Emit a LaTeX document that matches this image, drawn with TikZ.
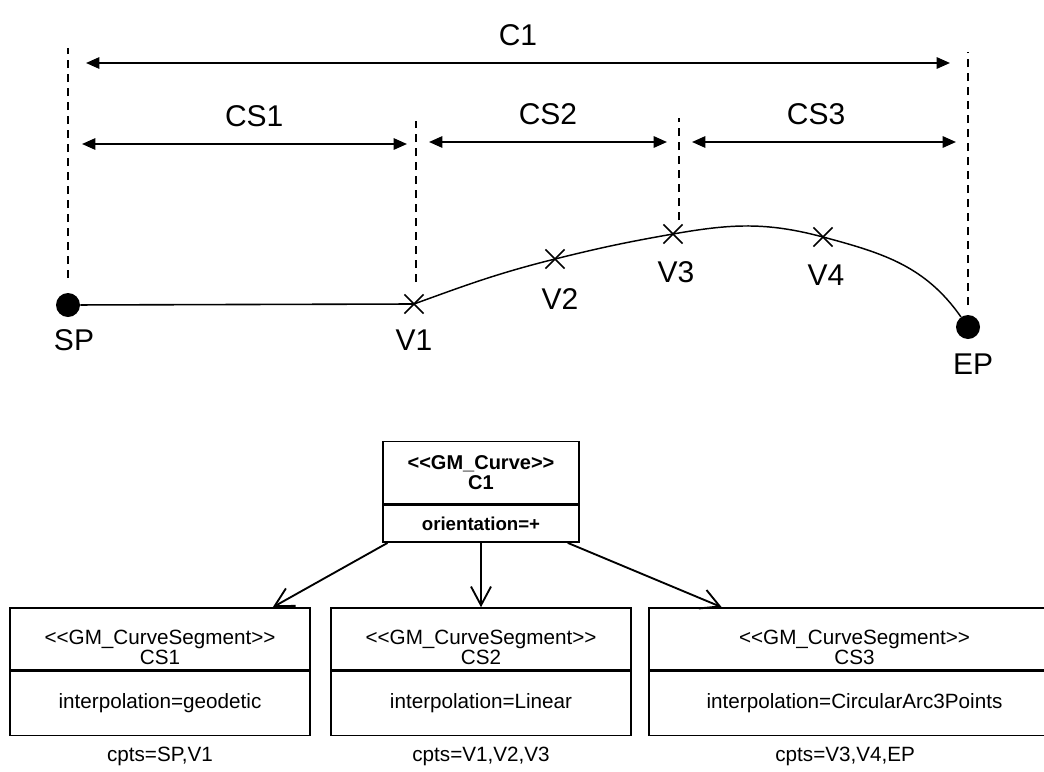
\documentclass[tikz,border=0pt]{standalone}
\usepackage{fontspec}
\setmainfont{Liberation Sans}
\usetikzlibrary{positioning,arrows.meta,shapes.misc}
\newcommand\guil[1]{<\kern0pt<#1>\kern0pt>}

\begin{document}
\begin{tikzpicture}
[x=0.75pt,y=-0.75pt,
 every node/.style={inner sep=0pt,font=\fontsize{22.5}{26}\selectfont},
 guide/.style={dash pattern=on 6pt off 4.5pt,line width=1.9pt},
 dim/.style={{Triangle[length=10pt,width=8.5pt]}-{Triangle[length=10pt,width=8.5pt]},line width=1.4pt},
 endpt/.style={circle,fill,minimum size=18pt},
 vtx/.style={cross out,draw,minimum size=13pt,line width=1.3pt},
 head/.style={draw,line width=1.2pt,minimum height=46.5pt,align=center,
   font=\fontsize{15.5}{15}\selectfont},
 seghead/.style={head,text height=38pt},
 attr/.style={draw,line width=1.2pt,minimum height=48pt,font=\fontsize{15.5}{18}\selectfont},
 note/.style={font=\fontsize{15.5}{18}\selectfont},
 uses/.style={-{Straight Barb[length=14pt,width=15pt]},line width=1.4pt}]
\useasboundingbox (0,0) rectangle (1044,771);

\node[endpt] (sp) at (68,305) {};
\node[vtx] (v1) at (414,304) {};
\node[vtx] (v2) at (555,259) {};
\node[vtx] (v3) at (673,234) {};
\node[vtx] (v4) at (823,237) {};
\node[endpt] (ep) at (968,327) {};

\node (spl) at ([xshift=4.5pt,yshift=-26pt]sp) {SP};
\node (v1l) at ([yshift=-27pt]v1) {V1};
\node (v2l) at ([xshift=3.75pt,yshift=-30pt]v2) {V2};
\node (v3l) at ([xshift=2.25pt,yshift=-28.5pt]v3) {V3};
\node (v4l) at ([xshift=2.25pt,yshift=-28.5pt]v4) {V4};
\node (epl) at ([xshift=3.75pt,yshift=-27.75pt]ep) {EP};

\draw[line width=1.2pt] (sp) -- (v1.center);
\draw[line width=1.1pt] (v1.center) to[out=20,in=194] (v2.center)
  to[out=14,in=190] (v3.center) to[out=10,in=165] (v4.center)
  to[out=-15,in=125] (ep);

\draw[guide] (68,278) -- (68,48);
\draw[guide] (416,282) -- (416,121);
\draw[guide] (679,220) -- (679,118);
\draw[guide] (968,305) -- (968,52);

\coordinate (c1l) at (86,63);   \coordinate (c1r) at (950,63);
\coordinate (cs1l) at (82,144); \coordinate (cs1r) at (407,144);
\coordinate (cs2l) at (429,142); \coordinate (cs2r) at (667,142);
\coordinate (cs3l) at (692,142); \coordinate (cs3r) at (956,142);
\draw[dim] (c1l) -- node[above=12.5pt] (c1t) {C1} (c1r);
\draw[dim] (cs1l) -- node[pos=0.53,above=12.5pt] (cs1t) {CS1} (cs1r);
\draw[dim] (cs2l) -- node[above=12.5pt] (cs2t) {CS2} (cs2r);
\draw[dim] (cs3l) -- node[pos=0.47,above=12.5pt] (cs3t) {CS3} (cs3r);

\node[head,minimum width=147pt,font=\bfseries\fontsize{15}{15}\selectfont] (c1)
  at (481,472.5) {\guil{GM\_Curve}\\C1};
\node[attr,minimum width=147pt,minimum height=27.75pt,below=0pt of c1,
  font=\bfseries\fontsize{14}{17}\selectfont] (c1a) {orientation=+};

\node[seghead,minimum width=225pt] (cs1) at (160,639) {\guil{GM\_CurveSegment}\\CS1};
\node[attr,minimum width=225pt,below=0pt of cs1] (cs1a) {interpolation=geodetic};
\node[note,below=8pt of cs1a] (cs1n) {cpts=SP,V1};

\node[seghead,minimum width=225pt] (cs2) at (481,639) {\guil{GM\_CurveSegment}\\CS2};
\node[attr,minimum width=225pt,below=0pt of cs2] (cs2a) {interpolation=Linear};
\node[note,below=8pt of cs2a] (cs2n) {cpts=V1,V2,V3};

\node[seghead,minimum width=308pt] (cs3) at (854.5,639) {\guil{GM\_CurveSegment}\\CS3};
\node[attr,minimum width=308pt,below=0pt of cs3] (cs3a) {interpolation=CircularArc3Points};
\node[note,below=8pt of cs3a,xshift=-7pt] (cs3n) {cpts=V3,V4,EP};

\draw[uses] ([xshift=4pt]c1a.south west) -- ([xshift=-28.5pt]cs1.north east);
\draw[uses] (c1a) -- (cs2);
\draw[uses] ([xshift=-9pt]c1a.south east) -- ([xshift=55pt]cs3.north west);
\end{tikzpicture}
\end{document}
